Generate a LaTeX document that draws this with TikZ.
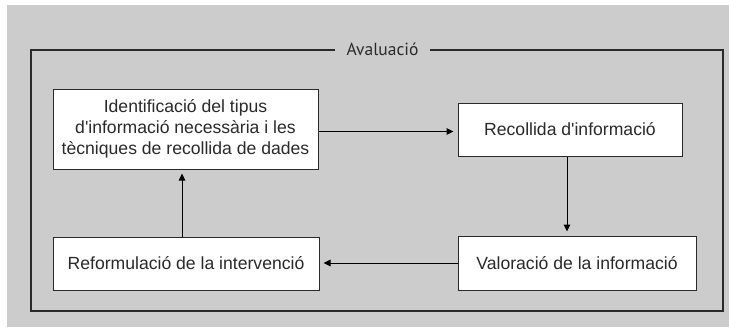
\documentclass[tikz,border=0pt]{standalone}
\usepackage{fontspec}
\setmainfont{Liberation Sans}
\newfontfamily\titlefont{PT Sans}
\usetikzlibrary{arrows.meta}
\definecolor{bggray}{HTML}{CCCCCC}
\definecolor{inkgray}{HTML}{2A2A2A}
\definecolor{linegray}{HTML}{2A2A2A}
\tikzset{
  stepbox/.style={draw=linegray, line width=1pt, fill=white, inner sep=0pt,
    text=inkgray, align=center,
    font=\fontsize{17.6pt}{21pt}\selectfont},
  arr/.style={draw=black, line width=1pt,
    -{Triangle[length=7pt,width=6.5pt]}, shorten >=4pt},
}
\begin{document}
\begin{tikzpicture}[x=1pt,y=-1pt]
\useasboundingbox (0,0) rectangle (729,327);
\fill[bggray] (7,4.5) rectangle (729,327);
\draw[linegray, line width=1.5pt] (31,50) rectangle (723,311);
\node[anchor=base, fill=bggray, inner xsep=12pt, inner ysep=2pt,
      text=inkgray, font=\titlefont\fontsize{17.5pt}{20pt}\selectfont]
  (title) at (382.5,55) {Avaluació};

\node[stepbox, minimum width=265pt, minimum height=80pt] (b1) at (185.5,129)
  {Identificació del tipus\\d\textquotesingle informació necessària i les\\tècniques de recollida de dades};
\node[stepbox, minimum width=224pt, minimum height=53pt] (b2) at (570,129.5)
  {Recollida d\textquotesingle informació};
\node[stepbox, minimum width=238pt, minimum height=54pt] (b3) at (577,263)
  {Valoració de la informació};
\node[stepbox, minimum width=266pt, minimum height=53pt] (b4) at (186,263.5)
  {Reformulació de la intervenció};

\draw[arr] ([yshift=-2.5pt]b1.east) -- ([yshift=-2.5pt]b1.east -| b2.west);
\draw[arr] ([xshift=-3pt]b2.south) -- ([xshift=-3pt]b2.south |- b3.north);
\draw[arr] (b3.west) -- (b3.west -| b4.east);
\draw[arr] ([xshift=-4pt]b4.north) -- ([xshift=-4pt]b4.north |- b1.south);
\end{tikzpicture}
\end{document}
